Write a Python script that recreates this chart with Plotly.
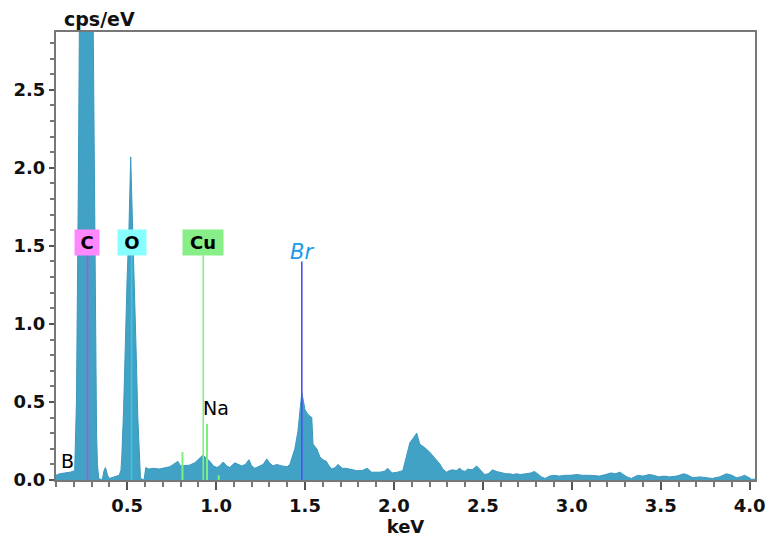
import plotly.graph_objects as go

# Spectrum (keV, cps/eV)
energy = [0.10, 0.12, 0.15, 0.18, 0.205, 0.215, 0.225, 0.235, 0.305, 0.318, 0.328, 0.333, 0.34, 0.36, 0.37, 0.378, 0.39, 0.40, 0.43, 0.455,
          0.465, 0.47, 0.48, 0.49, 0.50, 0.51, 0.52, 0.53, 0.54, 0.55, 0.56, 0.57, 0.575, 0.595, 0.605, 0.62, 0.65, 0.68, 0.71, 0.74,
          0.76, 0.785, 0.80, 0.83, 0.85, 0.88, 0.90, 0.926, 0.945, 0.965, 0.985, 1.005, 1.02, 1.04, 1.06, 1.077, 1.105, 1.125, 1.145, 1.165,
          1.185, 1.20, 1.218, 1.246, 1.265, 1.285, 1.30, 1.32, 1.34, 1.37, 1.40, 1.415, 1.43, 1.443, 1.46, 1.47, 1.482, 1.492, 1.50, 1.516,
          1.538, 1.545, 1.566, 1.583, 1.60, 1.62, 1.635, 1.65, 1.67, 1.685, 1.70, 1.71, 1.73, 1.75, 1.77, 1.79, 1.82, 1.85, 1.875, 1.90,
          1.92, 1.945, 1.965, 1.99, 2.02, 2.05, 2.07, 2.09, 2.11, 2.128, 2.145, 2.17, 2.20, 2.22, 2.24, 2.26, 2.274, 2.297, 2.31, 2.33,
          2.35, 2.37, 2.385, 2.40, 2.415, 2.44, 2.465, 2.48, 2.49, 2.51, 2.53, 2.555, 2.575, 2.594, 2.61, 2.63, 2.65, 2.67, 2.69, 2.71,
          2.74, 2.77, 2.79, 2.81, 2.83, 2.85, 2.875, 2.90, 2.93, 2.96, 2.99, 3.03, 3.06, 3.10, 3.13, 3.156, 3.19, 3.22, 3.245, 3.27,
          3.29, 3.31, 3.335, 3.37, 3.40, 3.435, 3.46, 3.49, 3.52, 3.55, 3.59, 3.63, 3.655, 3.68, 3.72, 3.76, 3.79, 3.83, 3.87, 3.90,
          3.925, 3.95, 3.97, 3.99, 4.01, 4.03]
counts = [0.03, 0.04, 0.045, 0.05, 0.06, 0.5, 1.8, 3.5, 3.5, 1.5, 0.3, 0.1, 0.01, 0.0, 0.06, 0.08, 0.03, 0.01, 0.02, 0.03,
          0.06, 0.15, 0.45, 0.9, 1.3, 1.6, 2.07, 1.65, 1.3, 0.85, 0.4, 0.08, 0.01, 0.0, 0.08, 0.07, 0.075, 0.07, 0.08, 0.085,
          0.1, 0.12, 0.09, 0.095, 0.095, 0.11, 0.13, 0.16, 0.14, 0.12, 0.09, 0.08, 0.09, 0.115, 0.09, 0.08, 0.11, 0.1, 0.09, 0.1,
          0.13, 0.09, 0.075, 0.09, 0.1, 0.135, 0.11, 0.09, 0.1, 0.09, 0.085, 0.1, 0.15, 0.2, 0.31, 0.42, 0.56, 0.5, 0.45, 0.42,
          0.40, 0.23, 0.2, 0.15, 0.13, 0.12, 0.09, 0.07, 0.08, 0.1, 0.085, 0.075, 0.075, 0.07, 0.065, 0.06, 0.06, 0.075, 0.05, 0.05,
          0.05, 0.055, 0.075, 0.045, 0.05, 0.06, 0.15, 0.24, 0.27, 0.30, 0.23, 0.21, 0.18, 0.155, 0.13, 0.1, 0.07, 0.05, 0.06, 0.065,
          0.06, 0.075, 0.06, 0.055, 0.07, 0.065, 0.09, 0.07, 0.06, 0.035, 0.04, 0.065, 0.055, 0.05, 0.045, 0.04, 0.04, 0.035, 0.04, 0.035,
          0.04, 0.045, 0.055, 0.035, 0.02, 0.01, 0.025, 0.03, 0.025, 0.03, 0.03, 0.035, 0.03, 0.03, 0.025, 0.025, 0.035, 0.045, 0.04, 0.05,
          0.035, 0.02, 0.01, 0.03, 0.025, 0.035, 0.03, 0.02, 0.025, 0.02, 0.025, 0.04, 0.03, 0.015, 0.02, 0.015, 0.01, 0.02, 0.04, 0.03,
          0.015, 0.02, 0.03, 0.02, 0.005, 0.005]

# Element markers
elements = ["C", "O", "Cu", "Br"]
element_energy = [0.277, 0.525, 0.928, 1.482]
element_colors = ["#b24fd8", "#3cc6dc", "#7fef7f", "#5050f0"]
label_bg = ["#ff88ff", "#88ffff", "#88ee88", None]
label_width = [20, 24, 36, None]
label_level = 1.52
line_top = [1.44, 1.44, 1.44, 1.40]

# Minor Cu lines
cu_minor_energy = [0.811, 0.949, 1.015]
cu_minor_height = [0.18, 0.36, 0.03]

x_ticks = [0.5, 1.0, 1.5, 2.0, 2.5, 3.0, 3.5, 4.0]
y_ticks = [0.0, 0.5, 1.0, 1.5, 2.0, 2.5]

FONT = "DejaVu Sans"

fig = go.Figure()
fig.add_trace(go.Scatter(x=energy, y=counts, mode="lines", fill="tozeroy",
                         line=dict(color="#3a98bf", width=1), fillcolor="#42a2c6",
                         hoverinfo="skip", showlegend=False))

for e, c, top in zip(element_energy, element_colors, line_top):
    fig.add_trace(go.Scatter(x=[e, e], y=[0, top], mode="lines",
                             line=dict(color=c, width=1.6), showlegend=False, hoverinfo="skip"))
for e, h in zip(cu_minor_energy, cu_minor_height):
    fig.add_trace(go.Scatter(x=[e, e], y=[0, h], mode="lines",
                             line=dict(color="#7fef7f", width=2), showlegend=False, hoverinfo="skip"))

for name, e, bg, w in zip(elements, element_energy, label_bg, label_width):
    if bg:
        fig.add_annotation(x=e, y=label_level, text="<b>" + name + "</b>", showarrow=False,
                           bgcolor=bg, borderpad=2, width=w, height=21,
                           font=dict(family=FONT, size=18, color="black"))
    else:
        fig.add_annotation(x=e, y=1.46, text="<i>" + name + "</i>", showarrow=False,
                           font=dict(family=FONT, size=21, color="#1c9be6"))

fig.add_annotation(x=1.0, y=0.46, text="Na", showarrow=False,
                   font=dict(family=FONT, size=19, color="black"))
fig.add_annotation(x=0.165, y=0.12, text="B", showarrow=False,
                   font=dict(family=FONT, size=19, color="black"))
fig.add_annotation(xref="paper", yref="paper", x=0.008, y=1.0, yshift=0, xanchor="left", yanchor="bottom",
                   text="<b>cps/eV</b>", showarrow=False,
                   font=dict(family=FONT, size=19, color="#111"))

fig.update_layout(
    width=774, height=543,
    margin=dict(l=48, r=27, t=24, b=71, autoexpand=False),
    plot_bgcolor="white", paper_bgcolor="white",
    font=dict(family=FONT, size=18, color="#111"),
)
fig.update_xaxes(range=[0.1, 4.03], tickvals=x_ticks, ticktext=["<b>%.1f</b>" % v for v in x_ticks],
                 ticks="outside", ticklen=8, tickwidth=1.5, tickcolor="#555", automargin=False,
                 minor=dict(dtick=0.1, tick0=0, ticks="outside", ticklen=5, tickcolor="#777"),
                 showline=True, linecolor="#777", linewidth=2, mirror=True, showgrid=False, zeroline=False,
                 title=dict(text="<b>keV</b>", standoff=2, font=dict(size=18)))
fig.update_yaxes(range=[0, 2.87], tickvals=y_ticks, ticktext=["<b>%.1f</b>" % v for v in y_ticks],
                 ticks="outside", ticklen=5, tickwidth=1.5, tickcolor="#555", automargin=False,
                 minor=dict(dtick=0.1, tick0=0, ticks="outside", ticklen=4, tickcolor="#777"),
                 showline=True, linecolor="#777", linewidth=2, mirror=True, showgrid=False, zeroline=False)

fig.write_html("out.html")
